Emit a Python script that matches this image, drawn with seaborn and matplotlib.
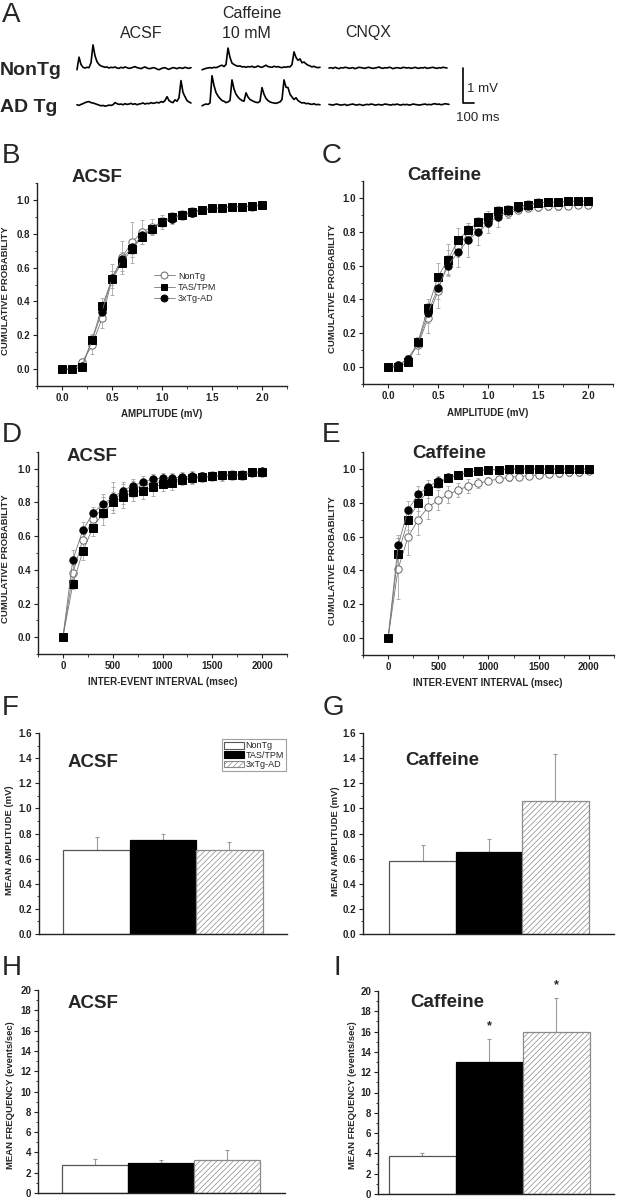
import numpy as np
import matplotlib
matplotlib.use('Agg')
import matplotlib.pyplot as plt
import seaborn as sns
from matplotlib.lines import Line2D
from matplotlib.patches import Patch
from matplotlib.ticker import MultipleLocator

sns.set_style('ticks')
plt.rcParams['font.family'] = ['Liberation Sans', 'DejaVu Sans']
plt.rcParams['font.weight'] = 'bold'
plt.rcParams['hatch.color'] = '#a8a8a8'
plt.rcParams['hatch.linewidth'] = 0.5

groups = ['NonTg', 'TAS/TPM', '3xTg-AD']

# ---- A: example recordings (mV above baseline, one sample every 20 ms)
trace_dt = 20
nontg_acsf = [-0.05, 0.31, 0.10, 0.02, 0.00, 0.02, 0.01, 0.15, 0.66, 0.35, 0.18, 0.10, 0.06, 0.04, 0.02,
              0.03, 0.00, 0.02, 0.01, 0.03, 0.00, -0.01, 0.02, 0.00, 0.03, 0.01, -0.01, 0.00, 0.02, 0.04,
              0.01, 0.00, -0.02, 0.01, 0.03, 0.00, -0.02, -0.01, 0.01, 0.00, -0.03, -0.05, -0.02, 0.00,
              0.01, -0.02, -0.04, -0.01, 0.01, 0.00, -0.02, 0.01, 0.00, -0.01, 0.02, 0.00, -0.01, 0.01]
nontg_caff = [-0.05, -0.03, -0.01, 0.00, 0.01, 0.00, 0.02, 0.01, 0.03, 0.06, 0.08, 0.04, 0.10, 0.57, 0.30,
              0.14, 0.10, 0.07, 0.05, 0.06, 0.03, 0.04, 0.02, 0.04, 0.03, 0.05, 0.02, 0.03, 0.06, 0.03,
              0.02, 0.05, 0.08, 0.04, 0.03, 0.02, 0.05, 0.03, 0.04, 0.02, 0.01, 0.03, 0.02, 0.04, 0.03,
              0.10, 0.46, 0.30, 0.22, 0.26, 0.15, 0.17, 0.12, 0.08, 0.06, 0.03, 0.05, 0.02, 0.01, 0.02]
nontg_cnqx = [0.00, 0.01, -0.01, 0.02, 0.00, -0.02, 0.01, 0.00, 0.02, 0.01, -0.01, 0.00, 0.01, -0.02, 0.00,
              0.02, 0.01, 0.00, -0.01, 0.01, 0.02, 0.00, -0.01, 0.00, 0.01, 0.03, 0.00, -0.01, 0.01, 0.00,
              0.02, 0.01, -0.02, 0.00, 0.01, 0.00, -0.01, 0.02, 0.01, 0.00, 0.01, -0.01, 0.00, 0.02, 0.00,
              -0.01, 0.01, 0.00, 0.02, -0.01, 0.00, 0.01, 0.02, 0.00, -0.01, 0.01, 0.00, 0.02, 0.01, 0.00]
adtg_acsf = [0.00, -0.02, 0.01, 0.03, 0.06, 0.08, 0.09, 0.06, 0.05, 0.03, 0.01, -0.01, -0.03, -0.02, -0.04,
             -0.03, -0.01, -0.02, 0.00, 0.06, 0.03, 0.01, 0.02, 0.00, 0.03, 0.01, 0.02, 0.04, 0.01, 0.03,
             0.00, 0.02, 0.03, 0.05, 0.02, 0.04, 0.03, 0.06, 0.04, 0.05, 0.07, 0.05, 0.09, 0.07, 0.12,
             0.23, 0.12, 0.08, 0.06, 0.14, 0.10, 0.20, 0.69, 0.35, 0.23, 0.12, 0.08, 0.05]
adtg_caff = [-0.03, 0.00, 0.02, 0.01, 0.05, 0.83, 0.55, 0.35, 0.25, 0.18, 0.12, 0.10, 0.06, 0.08, 0.12,
             0.71, 0.45, 0.30, 0.22, 0.16, 0.12, 0.10, 0.34, 0.22, 0.15, 0.12, 0.09, 0.07, 0.06, 0.10,
             0.49, 0.30, 0.18, 0.12, 0.08, 0.06, 0.05, 0.04, 0.06, 0.08, 0.15, 0.71, 0.50, 0.49, 0.30,
             0.22, 0.15, 0.20, 0.12, 0.08, 0.05, 0.06, 0.03, 0.04, 0.02, 0.01, 0.03, 0.00, 0.01, 0.00]
adtg_cnqx = [0.01, 0.00, -0.01, 0.01, 0.02, 0.00, -0.01, 0.00, 0.01, -0.02, 0.00, 0.01, 0.02, 0.00, -0.01,
             0.01, 0.00, -0.02, 0.00, 0.01, 0.00, 0.02, 0.01, -0.01, 0.00, 0.01, -0.01, 0.00, 0.02, 0.01,
             0.00, -0.01, 0.01, 0.00, 0.02, 0.00, -0.01, 0.01, 0.00, 0.01, -0.01, 0.00, 0.02, 0.01, 0.00,
             -0.01, 0.00, 0.01, 0.02, 0.00, 0.01, 0.00, 0.02, 0.03, 0.01, 0.02, 0.00, 0.01, 0.03, 0.02, 0.01]

# ---- B-E: cumulative probability
amp_x = [0.0, 0.1, 0.2, 0.3, 0.4, 0.5, 0.6, 0.7, 0.8, 0.9, 1.0,
         1.1, 1.2, 1.3, 1.4, 1.5, 1.6, 1.7, 1.8, 1.9, 2.0]
iei_x = [0, 100, 200, 300, 400, 500, 600, 700, 800, 900, 1000,
         1100, 1200, 1300, 1400, 1500, 1600, 1700, 1800, 1900, 2000]

b_nontg = [0, 0, 0.04, 0.14, 0.30, 0.53, 0.66, 0.75, 0.81, 0.84, 0.87, 0.89, 0.91, 0.93, 0.94, 0.95, 0.95, 0.96, 0.96, 0.96, 0.97]
b_tas = [0, 0, 0.01, 0.17, 0.37, 0.53, 0.63, 0.71, 0.78, 0.83, 0.87, 0.90, 0.91, 0.93, 0.94, 0.95, 0.955, 0.96, 0.96, 0.965, 0.97]
b_3x = [0, 0, 0.02, 0.17, 0.34, 0.54, 0.65, 0.72, 0.79, 0.83, 0.87, 0.89, 0.91, 0.92, 0.94, 0.95, 0.95, 0.96, 0.96, 0.965, 0.97]
b_nontg_err = [0, 0, 0.02, 0.05, 0.06, 0.09, 0.10, 0.12, 0.07, 0.05, 0.04, 0.03, 0.03, 0.03, 0.02, 0.02, 0.02, 0.02, 0.02, 0.02, 0.02]
b_tas_err = [0, 0, 0.01, 0.04, 0.05, 0.05, 0.05, 0.05, 0.04, 0.03, 0.03, 0.03, 0.02, 0.02, 0.02, 0.02, 0.02, 0.02, 0.02, 0.02, 0.02]
b_3x_err = [0, 0, 0.01, 0.03, 0.04, 0.04, 0.04, 0.04, 0.03, 0.03, 0.02, 0.02, 0.02, 0.02, 0.02, 0.02, 0.02, 0.02, 0.02, 0.02, 0.02]

c_nontg = [0, 0.01, 0.05, 0.13, 0.29, 0.45, 0.62, 0.71, 0.79, 0.83, 0.87, 0.91, 0.91, 0.93, 0.94, 0.945, 0.95, 0.95, 0.955, 0.96, 0.96]
c_tas = [0, 0.0, 0.03, 0.15, 0.35, 0.535, 0.635, 0.75, 0.81, 0.855, 0.89, 0.925, 0.93, 0.95, 0.96, 0.97, 0.975, 0.975, 0.98, 0.98, 0.98]
c_3x = [0, 0.01, 0.05, 0.14, 0.32, 0.47, 0.60, 0.68, 0.75, 0.80, 0.85, 0.89, 0.92, 0.94, 0.955, 0.97, 0.975, 0.975, 0.98, 0.98, 0.98]
c_nontg_err = [0, 0.01, 0.02, 0.05, 0.09, 0.10, 0.07, 0.06, 0.05, 0.04, 0.04, 0.03, 0.03, 0.02, 0.02, 0.02, 0.02, 0.02, 0.02, 0.02, 0.02]
c_tas_err = [0, 0, 0.01, 0.03, 0.05, 0.08, 0.09, 0.07, 0.04, 0.03, 0.03, 0.03, 0.03, 0.02, 0.02, 0.02, 0.02, 0.02, 0.01, 0.01, 0.01]
c_3x_err = [0, 0.01, 0.02, 0.03, 0.06, 0.07, 0.06, 0.09, 0.10, 0.08, 0.06, 0.06, 0.04, 0.03, 0.03, 0.03, 0.02, 0.02, 0.02, 0.02, 0.02]

d_nontg = [0, 0.38, 0.58, 0.70, 0.77, 0.825, 0.85, 0.88, 0.90, 0.915, 0.925, 0.93, 0.94, 0.94, 0.95, 0.955, 0.96, 0.965, 0.965, 0.975, 0.975]
d_tas = [0, 0.315, 0.51, 0.65, 0.735, 0.80, 0.83, 0.86, 0.87, 0.89, 0.91, 0.915, 0.935, 0.945, 0.95, 0.955, 0.965, 0.965, 0.965, 0.98, 0.98]
d_3x = [0, 0.46, 0.635, 0.735, 0.79, 0.83, 0.87, 0.90, 0.92, 0.94, 0.945, 0.945, 0.95, 0.955, 0.955, 0.955, 0.965, 0.965, 0.965, 0.98, 0.985]
d_nontg_err = [0, 0.05, 0.06, 0.06, 0.06, 0.07, 0.06, 0.05, 0.04, 0.04, 0.03, 0.03, 0.03, 0.03, 0.03, 0.02, 0.03, 0.03, 0.03, 0.02, 0.02]
d_tas_err = [0, 0.03, 0.05, 0.05, 0.07, 0.06, 0.06, 0.05, 0.05, 0.05, 0.04, 0.04, 0.03, 0.03, 0.03, 0.03, 0.02, 0.02, 0.02, 0.02, 0.02]
d_3x_err = [0, 0.06, 0.05, 0.04, 0.06, 0.09, 0.05, 0.04, 0.04, 0.03, 0.03, 0.03, 0.03, 0.03, 0.02, 0.02, 0.02, 0.02, 0.02, 0.02, 0.02]

e_nontg = [0, 0.41, 0.60, 0.70, 0.775, 0.815, 0.85, 0.875, 0.90, 0.915, 0.93, 0.94, 0.95, 0.955, 0.96, 0.965, 0.97, 0.975, 0.98, 0.98, 0.985]
e_tas = [0, 0.50, 0.70, 0.80, 0.87, 0.915, 0.945, 0.965, 0.98, 0.99, 0.995, 0.995, 1.0, 1.0, 1.0, 1.0, 1.0, 1.0, 1.0, 1.0, 1.0]
e_3x = [0, 0.55, 0.76, 0.85, 0.895, 0.93, 0.95, 0.965, 0.98, 0.99, 0.995, 0.995, 1.0, 1.0, 1.0, 1.0, 1.0, 1.0, 1.0, 1.0, 1.0]
e_nontg_err = [0, 0.18, 0.11, 0.09, 0.07, 0.06, 0.05, 0.04, 0.04, 0.03, 0.02, 0.02, 0.02, 0.02, 0.02, 0.02, 0.02, 0.02, 0.02, 0.02, 0.01]
e_tas_err = [0, 0.09, 0.06, 0.05, 0.04, 0.03, 0.02, 0.02, 0.01, 0.01, 0.01, 0.01, 0, 0, 0, 0, 0, 0, 0, 0, 0]
e_3x_err = [0, 0.06, 0.05, 0.05, 0.04, 0.03, 0.02, 0.02, 0.01, 0.01, 0.01, 0.01, 0, 0, 0, 0, 0, 0, 0, 0, 0]

# ---- F-I: means +/- error
f_mean = [0.67, 0.745, 0.665]
f_err = [0.10, 0.055, 0.065]
g_mean = [0.585, 0.655, 1.055]
g_err = [0.12, 0.105, 0.375]
h_mean = [2.8, 2.95, 3.25]
h_err = [0.55, 0.3, 0.95]
i_mean = [3.75, 13.0, 15.95]
i_err = [0.3, 2.25, 3.35]
i_marks = ['', '*', '*']

W, H = 619, 1199
fig = plt.figure(figsize=(W / 100, H / 100), dpi=100)


def rect(l, t, r, b):
    return [l / W, 1 - b / H, (r - l) / W, (b - t) / H]


def txt(x, y, s, **kw):
    kw.setdefault('va', 'baseline')
    fig.text(x / W, 1 - y / H, s, **kw)


def style_axis(ax):
    sns.despine(ax=ax)
    for sp in ax.spines.values():
        sp.set_linewidth(1.0)
        sp.set_color('#222222')
    ax.tick_params(which='major', direction='out', length=3, width=0.8, labelsize=7, pad=2, colors='#222222')
    ax.tick_params(which='minor', direction='out', length=1.8, width=0.6, colors='#222222')
    ax.set_xlabel('')
    ax.set_ylabel('')


# ---------------- A
ax_a = fig.add_axes(rect(70, 35, 480, 125))
ax_a.set_xlim(-70, 4030)
ax_a.set_ylim(-1.629, 0.943)
ax_a.axis('off')
starts = [0, 1250, 2520]
for offset, row in [(0.0, [nontg_acsf, nontg_caff, nontg_cnqx]), (-1.05, [adtg_acsf, adtg_caff, adtg_cnqx])]:
    for t0, v in zip(starts, row):
        t = t0 + np.arange(len(v)) * trace_dt
        ax_a.plot(t, np.array(v) + offset, color='black', lw=1.2)
ax_a.plot([3860, 3860, 3965], [0, -1.0, -1.0], color='black', lw=1.2, clip_on=False)

txt(2, 22, 'A', fontsize=20, fontweight='normal')
txt(120, 38, 'ACSF', fontsize=11.5, fontweight='normal')
txt(222, 18, 'Caffeine', fontsize=11.5, fontweight='normal')
txt(222, 38, '10 mM', fontsize=11.5, fontweight='normal')
txt(345, 37, 'CNQX', fontsize=11.5, fontweight='normal')
txt(0, 75, 'NonTg', fontsize=14)
txt(0, 112, 'AD Tg', fontsize=14)
txt(467, 92, '1 mV', fontsize=9.5, fontweight='normal')
txt(456, 121, '100 ms', fontsize=9.5, fontweight='normal')

# ---------------- B-E
marker_style = {
    'NonTg': dict(marker='o', markerfacecolor='white', markeredgecolor='#666666'),
    'TAS/TPM': dict(marker='s', markerfacecolor='black', markeredgecolor='black'),
    '3xTg-AD': dict(marker='o', markerfacecolor='black', markeredgecolor='black'),
}


def cumulative(box, x, curves, errs, xlim, major, minor):
    ax = fig.add_axes(rect(*box))
    for y, e in zip(curves, errs):
        ax.errorbar(x, y, yerr=e, fmt='none', ecolor='#a5a5a5', elinewidth=0.6,
                    capsize=1.5, capthick=0.6, zorder=1)
    for k, (g, y) in enumerate(zip(groups, curves)):
        sns.lineplot(x=x, y=y, ax=ax, color='#777777', linewidth=0.6, markersize=5.3,
                     markeredgewidth=0.7, zorder=2 + k, **marker_style[g])
    ax.set_xlim(*xlim)
    ax.set_ylim(-0.1, 1.1)
    ax.set_yticks([0.0, 0.2, 0.4, 0.6, 0.8, 1.0])
    ax.yaxis.set_minor_locator(MultipleLocator(0.1))
    ax.xaxis.set_major_locator(MultipleLocator(major))
    ax.xaxis.set_minor_locator(MultipleLocator(minor))
    style_axis(ax)
    return ax


ax_b = cumulative((37, 183, 287, 386), amp_x, [b_nontg, b_tas, b_3x],
                  [b_nontg_err, b_tas_err, b_3x_err], (-0.25, 2.25), 0.5, 0.25)
ax_b.xaxis.set_major_formatter(matplotlib.ticker.FormatStrFormatter('%.1f'))
ax_c = cumulative((363, 181, 613, 384), amp_x, [c_nontg, c_tas, c_3x],
                  [c_nontg_err, c_tas_err, c_3x_err], (-0.25, 2.25), 0.5, 0.25)
ax_c.xaxis.set_major_formatter(matplotlib.ticker.FormatStrFormatter('%.1f'))
ax_d = cumulative((38, 452, 287, 654), iei_x, [d_nontg, d_tas, d_3x],
                  [d_nontg_err, d_tas_err, d_3x_err], (-250, 2250), 500, 250)
ax_e = cumulative((363, 452, 614, 655), iei_x, [e_nontg, e_tas, e_3x],
                  [e_nontg_err, e_tas_err, e_3x_err], (-250, 2250), 500, 250)

handles = [Line2D([0], [0], color='#777777', lw=0.6, markersize=5, markeredgewidth=0.7, **marker_style[g])
           for g in groups]
ax_b.legend(handles, groups, loc='upper left', bbox_to_anchor=(150 / W, 1 - 268 / H),
            bbox_transform=fig.transFigure, frameon=False, handlelength=2.4, labelspacing=0.25,
            handletextpad=0.3, borderaxespad=0, prop={'size': 6.5, 'weight': 'normal'})

for letter, lx, ly in [('B', 2, 163), ('C', 322, 163), ('D', 2, 442), ('E', 322, 442)]:
    txt(lx, ly, letter, fontsize=20, fontweight='normal')
for s, lx, ly in [('ACSF', 72, 182), ('Caffeine', 407, 180), ('ACSF', 67, 461), ('Caffeine', 412, 458)]:
    txt(lx, ly, s, fontsize=13.5)
for s, lx, ly in [('AMPLITUDE (mV)', 162, 414), ('AMPLITUDE (mV)', 488, 413),
                  ('INTER-EVENT INTERVAL (msec)', 163, 682), ('INTER-EVENT INTERVAL (msec)', 488, 683)]:
    txt(lx, ly, s, fontsize=7, ha='center', va='center')
for lx, ly in [(6, 291), (333, 289), (6, 559), (333, 561)]:
    txt(lx, ly, 'CUMULATIVE PROBABILITY', fontsize=6.8, rotation=90, ha='center', va='center')

# ---------------- F-I
fills = {'NonTg': 'white', 'TAS/TPM': 'black', '3xTg-AD': 'white'}


def bars(box, means, errs, xlim, ylim, major, minor):
    ax = fig.add_axes(rect(*box))
    sns.barplot(x=groups, y=means, hue=groups, palette=fills, width=1.0, edgecolor='#555555',
                linewidth=0.9, legend=False, errorbar=None, ax=ax, zorder=2)
    ax.patches[1].set_edgecolor('black')
    ax.patches[2].set_hatch('//////')
    ax.patches[2].set_edgecolor('#8a8a8a')
    ax.errorbar([0, 1, 2], means, yerr=[np.zeros(len(means)), errs], fmt='none', ecolor='#9a9a9a',
                elinewidth=0.8, capsize=1.5, capthick=0.8, zorder=1)
    ax.set_xlim(*xlim)
    ax.set_ylim(*ylim)
    ax.set_xticks([])
    ax.yaxis.set_major_locator(MultipleLocator(major))
    ax.yaxis.set_minor_locator(MultipleLocator(minor))
    style_axis(ax)
    return ax


ax_f = bars((39, 733, 287, 934), f_mean, f_err, (-0.865, 2.865), (0, 1.6), 0.2, 0.1)
ax_g = bars((363, 733, 614, 934), g_mean, g_err, (-0.895, 2.88), (0, 1.6), 0.2, 0.1)
ax_h = bars((38, 990, 285, 1193), h_mean, h_err, (-0.86, 2.87), (0, 20), 2, 1)
ax_i = bars((378, 991, 614, 1194), i_mean, i_err, (-0.66, 2.86), (0, 20), 2, 1)
for ax in (ax_f, ax_g):
    ax.yaxis.set_major_formatter(matplotlib.ticker.FormatStrFormatter('%.1f'))

for k, mark in enumerate(i_marks):
    if mark:
        ax_i.text(k, i_mean[k] + i_err[k] + 1.3, mark, ha='center', va='center', fontsize=9, clip_on=False)

bar_handles = [Patch(facecolor='white', edgecolor='#555555', lw=0.8),
               Patch(facecolor='black', edgecolor='black', lw=0.8),
               Patch(facecolor='white', edgecolor='#8a8a8a', lw=0.8, hatch='//////')]
leg = ax_f.legend(bar_handles, groups, loc='upper left', bbox_to_anchor=(222 / W, 1 - 739 / H),
                  bbox_transform=fig.transFigure, frameon=True, fancybox=False, handlelength=2.2,
                  handleheight=0.8, labelspacing=0.05, handletextpad=0.15, borderpad=0.25,
                  borderaxespad=0, prop={'size': 6.5, 'weight': 'normal'})
leg.get_frame().set_edgecolor('#888888')
leg.get_frame().set_linewidth(0.8)

for letter, lx, ly in [('F', 2, 715), ('G', 323, 715), ('H', 2, 975), ('I', 334, 975)]:
    txt(lx, ly, letter, fontsize=20, fontweight='normal')
for s, lx, ly in [('ACSF', 68, 767), ('Caffeine', 405, 765), ('ACSF', 68, 1008), ('Caffeine', 410, 1007)]:
    txt(lx, ly, s, fontsize=13.5)
for s, lx, ly in [('MEAN AMPLITUDE (mV)', 10, 840), ('MEAN AMPLITUDE (mV)', 335, 841),
                  ('MEAN FREQUENCY (events/sec)', 11, 1095), ('MEAN FREQUENCY (events/sec)', 352, 1095)]:
    txt(lx, ly, s, fontsize=6.8, rotation=90, ha='center', va='center')

fig.savefig('out.png', dpi=100)
